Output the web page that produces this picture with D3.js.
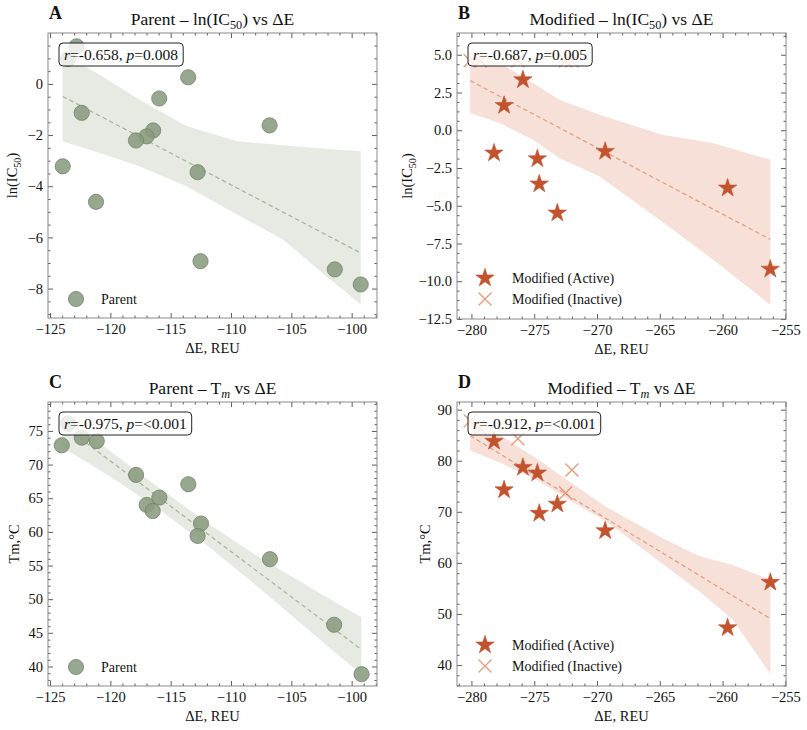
<!DOCTYPE html>
<html>
<head>
<meta charset="utf-8">
<script src="https://cdn.jsdelivr.net/npm/d3@7"></script>
<style>
  body { margin: 0; background: #fff; }
  text { font-family: "Liberation Serif", "Times New Roman", serif; fill: #111; }
</style>
</head>
<body>
<svg id="chart" width="807" height="730"></svg>
<script>
// ---- data ----
// parent, ln(IC50) vs dE
var parentDE     = [-122.8, -123.5, -113.55, -115.95, -122.38, -106.8, -116.45, -117.0, -117.88, -123.95, -112.77, -121.19, -112.53, -101.4, -99.25];
var parentLnIC50 = [1.47, 0.98, 0.26, -0.57, -1.13, -1.62, -1.82, -2.05, -2.21, -3.22, -3.45, -4.61, -6.93, -7.25, -7.84];
// parent, Tm vs dE
var parentTmDE = [-123.5, -124.03, -122.37, -121.13, -117.87, -113.54, -115.94, -116.99, -116.49, -112.49, -112.77, -106.77, -101.45, -99.18];
var parentTm   = [76.1, 72.87, 74.0, 73.5, 68.46, 67.08, 65.1, 64.0, 63.1, 61.24, 59.4, 55.94, 46.2, 38.85];
// modified, active
var activeDE     = [-275.9, -277.4, -278.2, -269.35, -274.75, -274.6, -273.16, -259.6, -256.2];
var activeLnIC50 = [3.34, 1.64, -1.51, -1.40, -1.89, -3.56, -5.48, -3.83, -9.2];
var activeTm     = [78.7, 74.3, 83.8, 66.3, 77.6, 69.7, 71.5, 47.3, 56.2];
// modified, inactive (IC50 capped)
var inactiveDE     = [-280.1, -279.3, -276.3, -272.5, -272.0];
var inactiveLnIC50 = [4.6, 4.6, 4.6, 4.6, 4.6];
var inactiveTm     = [87.8, 86.3, 84.3, 73.7, 78.2];

// confidence bands (read at a few dE positions)
var bandAX  = [-123.95, -120.9, -117.6, -113.7, -109.5, -105.7, -102.5, -99.25];
var bandAHi = [1.2, 0.36, -0.61, -1.65, -2.24, -2.4, -2.52, -2.63];
var bandALo = [-2.24, -2.7, -3.22, -4.0, -5.1, -6.08, -7.36, -8.62];
var bandBX  = [-280.1, -277.75, -275.1, -273.0, -269.8, -264.8, -260.8, -256.2];
var bandBHi = [5.35, 4.45, 3.13, 2.02, 1.03, -0.3, -0.85, -1.95];
var bandBLo = [1.14, 0.48, -0.63, -1.84, -3.06, -6.06, -8.55, -11.56];
var bandCX  = [-124.0, -120, -116, -112, -108, -105, -102, -99.2];
var bandCHi = [77.6, 72.0, 66.6, 61.4, 56.6, 53.4, 50.2, 47.3];
var bandCLo = [72.6, 68.2, 63.4, 58.0, 52.2, 47.6, 43.0, 38.9];
var bandDX  = [-280.1, -277.7, -274.6, -272, -269.3, -264.5, -261.8, -259.2, -256.2];
var bandDHi = [88.5, 85.0, 80.1, 75.6, 71.0, 64.5, 61.3, 59.6, 56.7];
var bandDLo = [82.0, 79.6, 76.0, 72.0, 68.2, 59.3, 54.3, 48.9, 38.3];

// ticks
var xTicksParent = [-125, -120, -115, -110, -105, -100];
var xTicksMod    = [-280, -275, -270, -265, -260, -255];
var yTicksA = [-8, -6, -4, -2, 0];
var yTicksB = [-12.5, -10, -7.5, -5, -2.5, 0, 2.5, 5];
var yTicksC = [40, 45, 50, 55, 60, 65, 70, 75];
var yTicksD = [40, 50, 60, 70, 80, 90];

var stats = ["-0.658, ", "0.008", "-0.687, ", "0.005", "-0.975, ", "<0.001", "-0.912, ", "<0.001"];

// ---- style ----
var parentFill = "#8a9b80", parentEdge = "#72836a", parentBand = "#e7eae3", parentLine = "#a6b39b";
var modFill = "#c2532e", modCross = "#e08a60", modBand = "#f6e0d8", modLine = "#e39b80";

var svg = d3.select("#chart");

var panels = [
  { letter: "A", left: 48, top: 33, w: 329, h: 285, xd: [-125.17, -97.9], yd: [-9.15, 1.99],
    xt: xTicksParent, yt: yTicksA, xm: 1, ym: 0.5, ydec: 0, ylabX: -31,
    title: [{t: "Parent \u2013 ln(IC"}, {t: "50", sub: true}, {t: ") vs \u0394E"}],
    ylab: [{t: "ln(IC"}, {t: "50", sub: true}, {t: ")"}],
    kind: "parent", xs: parentDE, ys: parentLnIC50,
    band: [bandAX, bandALo, bandAHi], r: stats[0], p: stats[1] },
  { letter: "B", left: 457, top: 33, w: 329, h: 286, xd: [-281.15, -254.95], yd: [-12.5, 6.44],
    xt: xTicksMod, yt: yTicksB, xm: 1, ym: 0.625, ydec: 1, ylabX: -45,
    title: [{t: "Modified \u2013 ln(IC"}, {t: "50", sub: true}, {t: ") vs \u0394E"}],
    ylab: [{t: "ln(IC"}, {t: "50", sub: true}, {t: ")"}],
    kind: "mod", xs: activeDE, ys: activeLnIC50, xi: inactiveDE, yi: inactiveLnIC50,
    band: [bandBX, bandBLo, bandBHi], r: stats[2], p: stats[3] },
  { letter: "C", left: 48, top: 402, w: 329, h: 284, xd: [-125.17, -97.9], yd: [37.1, 79.3],
    xt: xTicksParent, yt: yTicksC, xm: 1, ym: 1, ydec: 0, ylabX: -29,
    title: [{t: "Parent \u2013 T"}, {t: "m", sub: true, it: true}, {t: " vs \u0394E"}],
    ylab: [{t: "Tm,\u00b0C"}],
    kind: "parent", xs: parentTmDE, ys: parentTm,
    band: [bandCX, bandCLo, bandCHi], r: stats[4], p: stats[5] },
  { letter: "D", left: 457, top: 402, w: 329, h: 284, xd: [-281.15, -254.95], yd: [35.9, 91.5],
    xt: xTicksMod, yt: yTicksD, xm: 1, ym: 2, ydec: 0, ylabX: -27,
    title: [{t: "Modified \u2013 T"}, {t: "m", sub: true, it: true}, {t: " vs \u0394E"}],
    ylab: [{t: "Tm,\u00b0C"}],
    kind: "mod", xs: activeDE, ys: activeTm, xi: inactiveDE, yi: inactiveTm,
    band: [bandDX, bandDLo, bandDHi], r: stats[6], p: stats[7] }
];

function rich(sel, parts, shift) {
  var down = false;
  parts.forEach(function(p) {
    var t = sel.append("tspan").text(p.t);
    if (p.it) t.attr("font-style", "italic");
    if (p.sub) { t.attr("font-size", "70%").attr("dy", shift); down = true; }
    else if (down) { t.attr("dy", -shift); down = false; }
  });
}

function fmt(dec) {
  return function(v) {
    var s = dec ? d3.format("." + dec + "f")(Math.abs(v)) : String(Math.abs(v));
    return (v < 0 ? "\u2212" : "") + s;
  };
}

function minors(domain, step, majors) {
  var lo = Math.ceil(domain[0] / step - 1e-9), hi = Math.floor(domain[1] / step + 1e-9);
  return d3.range(lo, hi + 1).map(function(i) { return +(i * step).toFixed(6); })
    .filter(function(v) { return !majors.some(function(m) { return Math.abs(m - v) < 1e-6; }); });
}

function fit(xs, ys) {
  var mx = d3.mean(xs), my = d3.mean(ys), sxy = 0, sxx = 0;
  xs.forEach(function(x, i) { sxy += (x - mx) * (ys[i] - my); sxx += (x - mx) * (x - mx); });
  var b = sxy / sxx;
  return function(x) { return my + b * (x - mx); };
}

function star(g, cx, cy) {
  g.append("path").attr("d", d3.symbol(d3.symbolStar, 105)())
    .attr("transform", "translate(" + cx + "," + cy + ")")
    .attr("fill", modFill).attr("stroke", modFill).attr("stroke-width", 0.6);
}
function cross(g, cx, cy) {
  var s = 6.5;
  g.append("path").attr("d", "M" + (-s) + "," + (-s) + "L" + s + "," + s + "M" + (-s) + "," + s + "L" + s + "," + (-s))
    .attr("transform", "translate(" + cx + "," + cy + ")")
    .attr("stroke", modCross).attr("stroke-width", 1.3).attr("fill", "none").attr("opacity", 0.85);
}
function dot(g, cx, cy) {
  g.append("circle").attr("cx", cx).attr("cy", cy).attr("r", 7.6)
    .attr("fill", parentFill).attr("fill-opacity", 0.88)
    .attr("stroke", parentEdge).attr("stroke-width", 0.8);
}

panels.forEach(function(p) {
  var g = svg.append("g").attr("transform", "translate(" + p.left + "," + p.top + ")");
  var x = d3.scaleLinear().domain(p.xd).range([0, p.w]);
  var y = d3.scaleLinear().domain(p.yd).range([p.h, 0]);
  var isParent = p.kind === "parent";

  var clip = "clip" + p.letter;
  g.append("clipPath").attr("id", clip).append("rect").attr("width", p.w).attr("height", p.h);
  var plot = g.append("g").attr("clip-path", "url(#" + clip + ")");

  // band
  var bx = p.band[0], blo = p.band[1], bhi = p.band[2];
  var area = d3.area().x(function(d) { return x(d); })
    .y0(function(d, i) { return y(blo[i]); }).y1(function(d, i) { return y(bhi[i]); });
  plot.append("path").datum(bx).attr("d", area)
    .attr("fill", isParent ? parentBand : modBand).attr("stroke", "none");

  // regression line
  var allX = isParent ? p.xs : p.xs.concat(p.xi);
  var allY = isParent ? p.ys : p.ys.concat(p.yi);
  var f = fit(allX, allY);
  var ext = d3.extent(allX);
  plot.append("path").datum(ext)
    .attr("d", d3.line().x(function(d) { return x(d); }).y(function(d) { return y(f(d)); }))
    .attr("stroke", isParent ? parentLine : modLine).attr("stroke-width", 1.2)
    .attr("stroke-dasharray", "4.5,3").attr("fill", "none");

  // points
  if (isParent) {
    p.xs.forEach(function(v, i) { dot(plot, x(v), y(p.ys[i])); });
  } else {
    p.xi.forEach(function(v, i) { cross(plot, x(v), y(p.yi[i])); });
    p.xs.forEach(function(v, i) { star(plot, x(v), y(p.ys[i])); });
  }

  // axes, ticks inward on all sides
  var xMin = minors(p.xd, p.xm, p.xt), yMin = minors(p.yd, p.ym, p.yt);
  function styleAx(a) {
    a.select(".domain").remove();
    a.selectAll("line").attr("stroke", "#333").attr("stroke-width", 0.8);
    a.selectAll("text").attr("font-size", 14.5).attr("fill", "#111");
  }
  g.append("g").attr("transform", "translate(0," + p.h + ")")
    .call(d3.axisBottom(x).tickValues(p.xt).tickSize(-5).tickPadding(6).tickFormat(fmt(0))).call(styleAx);
  g.append("g").attr("transform", "translate(0," + p.h + ")")
    .call(d3.axisBottom(x).tickValues(xMin).tickSize(-2.5).tickFormat("")).call(styleAx);
  g.append("g").call(d3.axisTop(x).tickValues(p.xt).tickSize(-5).tickFormat("")).call(styleAx);
  g.append("g").call(d3.axisTop(x).tickValues(xMin).tickSize(-2.5).tickFormat("")).call(styleAx);
  g.append("g").call(d3.axisLeft(y).tickValues(p.yt).tickSize(-5).tickPadding(5).tickFormat(fmt(p.ydec))).call(styleAx);
  g.append("g").call(d3.axisLeft(y).tickValues(yMin).tickSize(-2.5).tickFormat("")).call(styleAx);
  g.append("g").attr("transform", "translate(" + p.w + ",0)")
    .call(d3.axisRight(y).tickValues(p.yt).tickSize(-5).tickFormat("")).call(styleAx);
  g.append("g").attr("transform", "translate(" + p.w + ",0)")
    .call(d3.axisRight(y).tickValues(yMin).tickSize(-2.5).tickFormat("")).call(styleAx);

  g.append("rect").attr("width", p.w).attr("height", p.h)
    .attr("fill", "none").attr("stroke", "#8a8a8a").attr("stroke-width", 1);

  // stats box
  var box = g.append("g").attr("transform", "translate(11,10)");
  var bg = box.append("rect").attr("rx", 4).attr("ry", 4)
    .attr("fill", "#fff").attr("fill-opacity", 0.8).attr("stroke", "#222").attr("stroke-width", 1);
  var txt = box.append("text").attr("x", 5).attr("y", 17).attr("font-size", 15.5);
  rich(txt, [{t: "r", it: true}, {t: "=" + p.r}, {t: "p", it: true}, {t: "=" + p.p}], 0);
  var bb = txt.node().getBBox();
  bg.attr("width", bb.width + 10).attr("height", 23);

  // legend
  if (isParent) {
    dot(g, 28, p.h - 19);
    g.append("text").attr("x", 53).attr("y", p.h - 14).attr("font-size", 14).text("Parent");
  } else {
    star(g, 28, p.h - 41);
    g.append("text").attr("x", 55).attr("y", p.h - 36).attr("font-size", 14).text("Modified (Active)");
    cross(g, 28, p.h - 20);
    g.append("text").attr("x", 55).attr("y", p.h - 15).attr("font-size", 14).text("Modified (Inactive)");
  }

  // titles and labels
  rich(g.append("text").attr("x", p.w / 2).attr("y", -8).attr("text-anchor", "middle")
    .attr("font-size", 17.5), p.title, 4);
  g.append("text").attr("x", 1).attr("y", -14).attr("font-size", 18).attr("font-weight", "bold")
    .text(p.letter);
  g.append("text").attr("x", p.w / 2).attr("y", p.h + 35).attr("text-anchor", "middle")
    .attr("font-size", 14.5).text("\u0394E, REU");
  rich(g.append("text").attr("transform", "translate(" + p.ylabX + "," + (p.h / 2) + ") rotate(-90)")
    .attr("text-anchor", "middle").attr("font-size", 14.5), p.ylab, 3.5);
});
</script>
</body>
</html>
